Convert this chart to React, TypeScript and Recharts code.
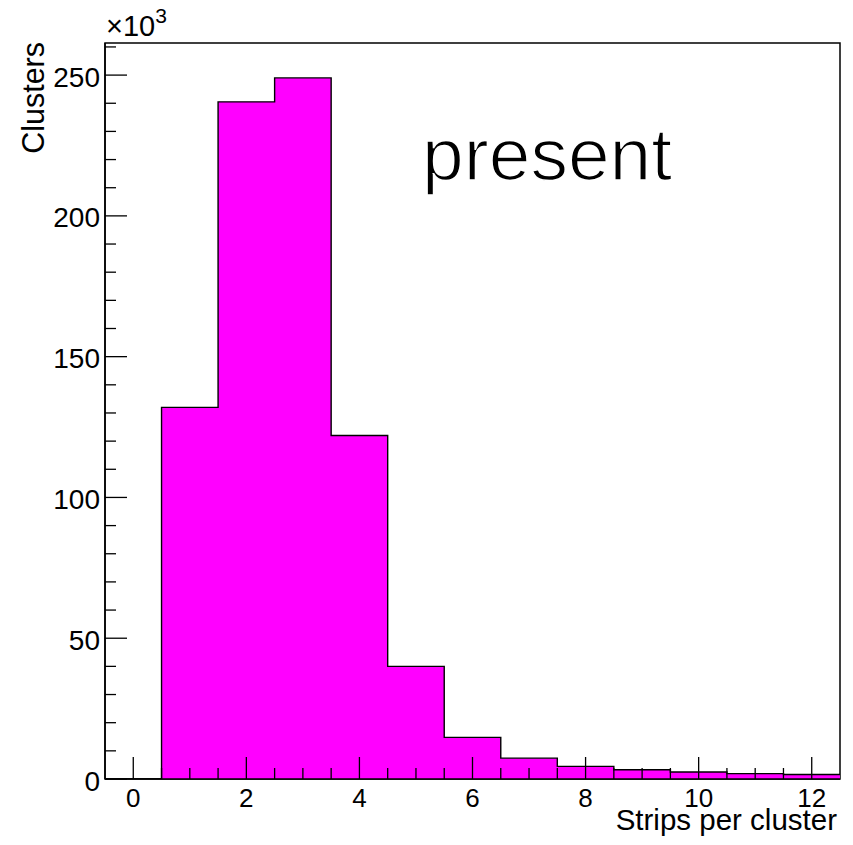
import React from 'react';
import { ComposedChart, Area, XAxis, YAxis, ReferenceArea, Label } from 'recharts';

// Histogram: strips per cluster (counts in units of 10^3)
const binCenters = [0, 1, 2, 3, 4, 5, 6, 7, 8, 9, 10, 11, 12];
const counts = [0, 132, 240.5, 249, 122, 40, 14.8, 7.4, 4.5, 3.3, 2.5, 1.9, 1.6];

const xMajorTicks = [0, 2, 4, 6, 8, 10, 12];
const xMinorStep = 0.5;
const yMajorTicks = [0, 50, 100, 150, 200, 250];
const yMinorStep = 10;

const xDomain: [number, number] = [-0.5, 12.5];
const yDomain: [number, number] = [0, 261.4];

const xTitle = 'Strips per cluster';
const yTitle = 'Clusters';
const annotation = 'present';

const FONT = '"Liberation Sans", Arial, Helvetica, sans-serif';

// step data built from bin edges (left edge of each bin, plus closing right edge)
const stepData = [
  ...binCenters.map((c, i) => ({ x: c - 0.5, y: counts[i] })),
  { x: binCenters[binCenters.length - 1] + 0.5, y: counts[counts.length - 1] },
];

const xTicks: number[] = [];
for (let v = 0; v <= 12 + 1e-9; v += xMinorStep) xTicks.push(Math.round(v * 10) / 10);
const yTicks: number[] = [];
for (let v = 0; v <= 260 + 1e-9; v += yMinorStep) yTicks.push(v);

const XTick = (props: any) => {
  const { x, y, payload } = props;
  const v = payload.value;
  const major = xMajorTicks.includes(v);
  const len = major ? 22 : 11;
  return (
    <g>
      <line x1={x} y1={y} x2={x} y2={y - len} stroke="#000" strokeWidth={1.3} />
      {major && (
        <text x={x} y={y + 28} textAnchor="middle" fontSize={26} fontFamily={FONT} fill="#000">
          {v}
        </text>
      )}
    </g>
  );
};

const YTick = (props: any) => {
  const { x, y, payload } = props;
  const v = payload.value;
  const major = yMajorTicks.includes(v);
  const len = major ? 22 : 11;
  return (
    <g>
      <line x1={x} y1={y} x2={x + len} y2={y} stroke="#000" strokeWidth={1.3} />
      {major && (
        <text x={x - 5} y={y + 11.5} textAnchor="end" fontSize={28} fontFamily={FONT} fill="#000">
          {v}
        </text>
      )}
    </g>
  );
};

const XTitle = (props: any) => {
  const vb = props.viewBox || {};
  return (
    <text
      x={vb.x + vb.width - 3}
      y={vb.y + 51}
      textAnchor="end"
      fontSize={29.5}
      fontFamily={FONT}
      fill="#000"
    >
      {xTitle}
    </text>
  );
};

const YTitle = (props: any) => {
  const vb = props.viewBox || {};
  const tx = vb.x + 44;
  const ty = vb.y - 1;
  return (
    <g>
      <text
        x={tx}
        y={ty}
        textAnchor="end"
        fontSize={30.5}
        fontFamily={FONT}
        fill="#000"
        transform={`rotate(-90, ${tx}, ${ty})`}
      >
        {yTitle}
      </text>
      <text x={vb.x + vb.width + 1} y={vb.y - 7} fontSize={29} fontFamily={FONT} fill="#000">
        ×10
        <tspan dy={-13} fontSize={21}>3</tspan>
      </text>
      <text
        x={vb.x + vb.width + 317}
        y={vb.y + 137}
        fontSize={75}
        fontFamily={FONT}
        fill="#000"
        stroke="#fff"
        strokeWidth={1.6}
      >
        {annotation}
      </text>
    </g>
  );
};

export default function App() {
  return (
    <div style={{ position: 'absolute', left: 0, top: 0, background: '#fff' }}>
      <ComposedChart
        width={853}
        height={845}
        data={stepData}
        margin={{ top: 43, right: 13, bottom: 0, left: 0 }}
      >
        <ReferenceArea
          x1={xDomain[0]}
          x2={xDomain[1]}
          y1={yDomain[0]}
          y2={yDomain[1]}
          fill="none"
          stroke="#000"
          strokeWidth={1.5}
          ifOverflow="extendDomain"
        />
        <Area
          type="stepAfter"
          dataKey="y"
          stroke="#000"
          strokeWidth={1.4}
          fill="#ff00ff"
          fillOpacity={1}
          dot={false}
          activeDot={false}
          isAnimationActive={false}
        />
        <XAxis
          dataKey="x"
          type="number"
          domain={xDomain}
          allowDataOverflow
          ticks={xTicks}
          interval={0}
          tickSize={0}
          tickMargin={0}
          height={66}
          tick={<XTick />}
          axisLine={{ stroke: '#000', strokeWidth: 1.5 }}
          tickLine={false}
        >
          <Label content={<XTitle />} />
        </XAxis>
        <YAxis
          type="number"
          domain={yDomain}
          allowDataOverflow
          ticks={yTicks}
          interval={0}
          tickSize={0}
          tickMargin={0}
          width={105}
          tick={<YTick />}
          axisLine={{ stroke: '#000', strokeWidth: 1.5 }}
          tickLine={false}
        >
          <Label content={<YTitle />} />
        </YAxis>
      </ComposedChart>
    </div>
  );
}
